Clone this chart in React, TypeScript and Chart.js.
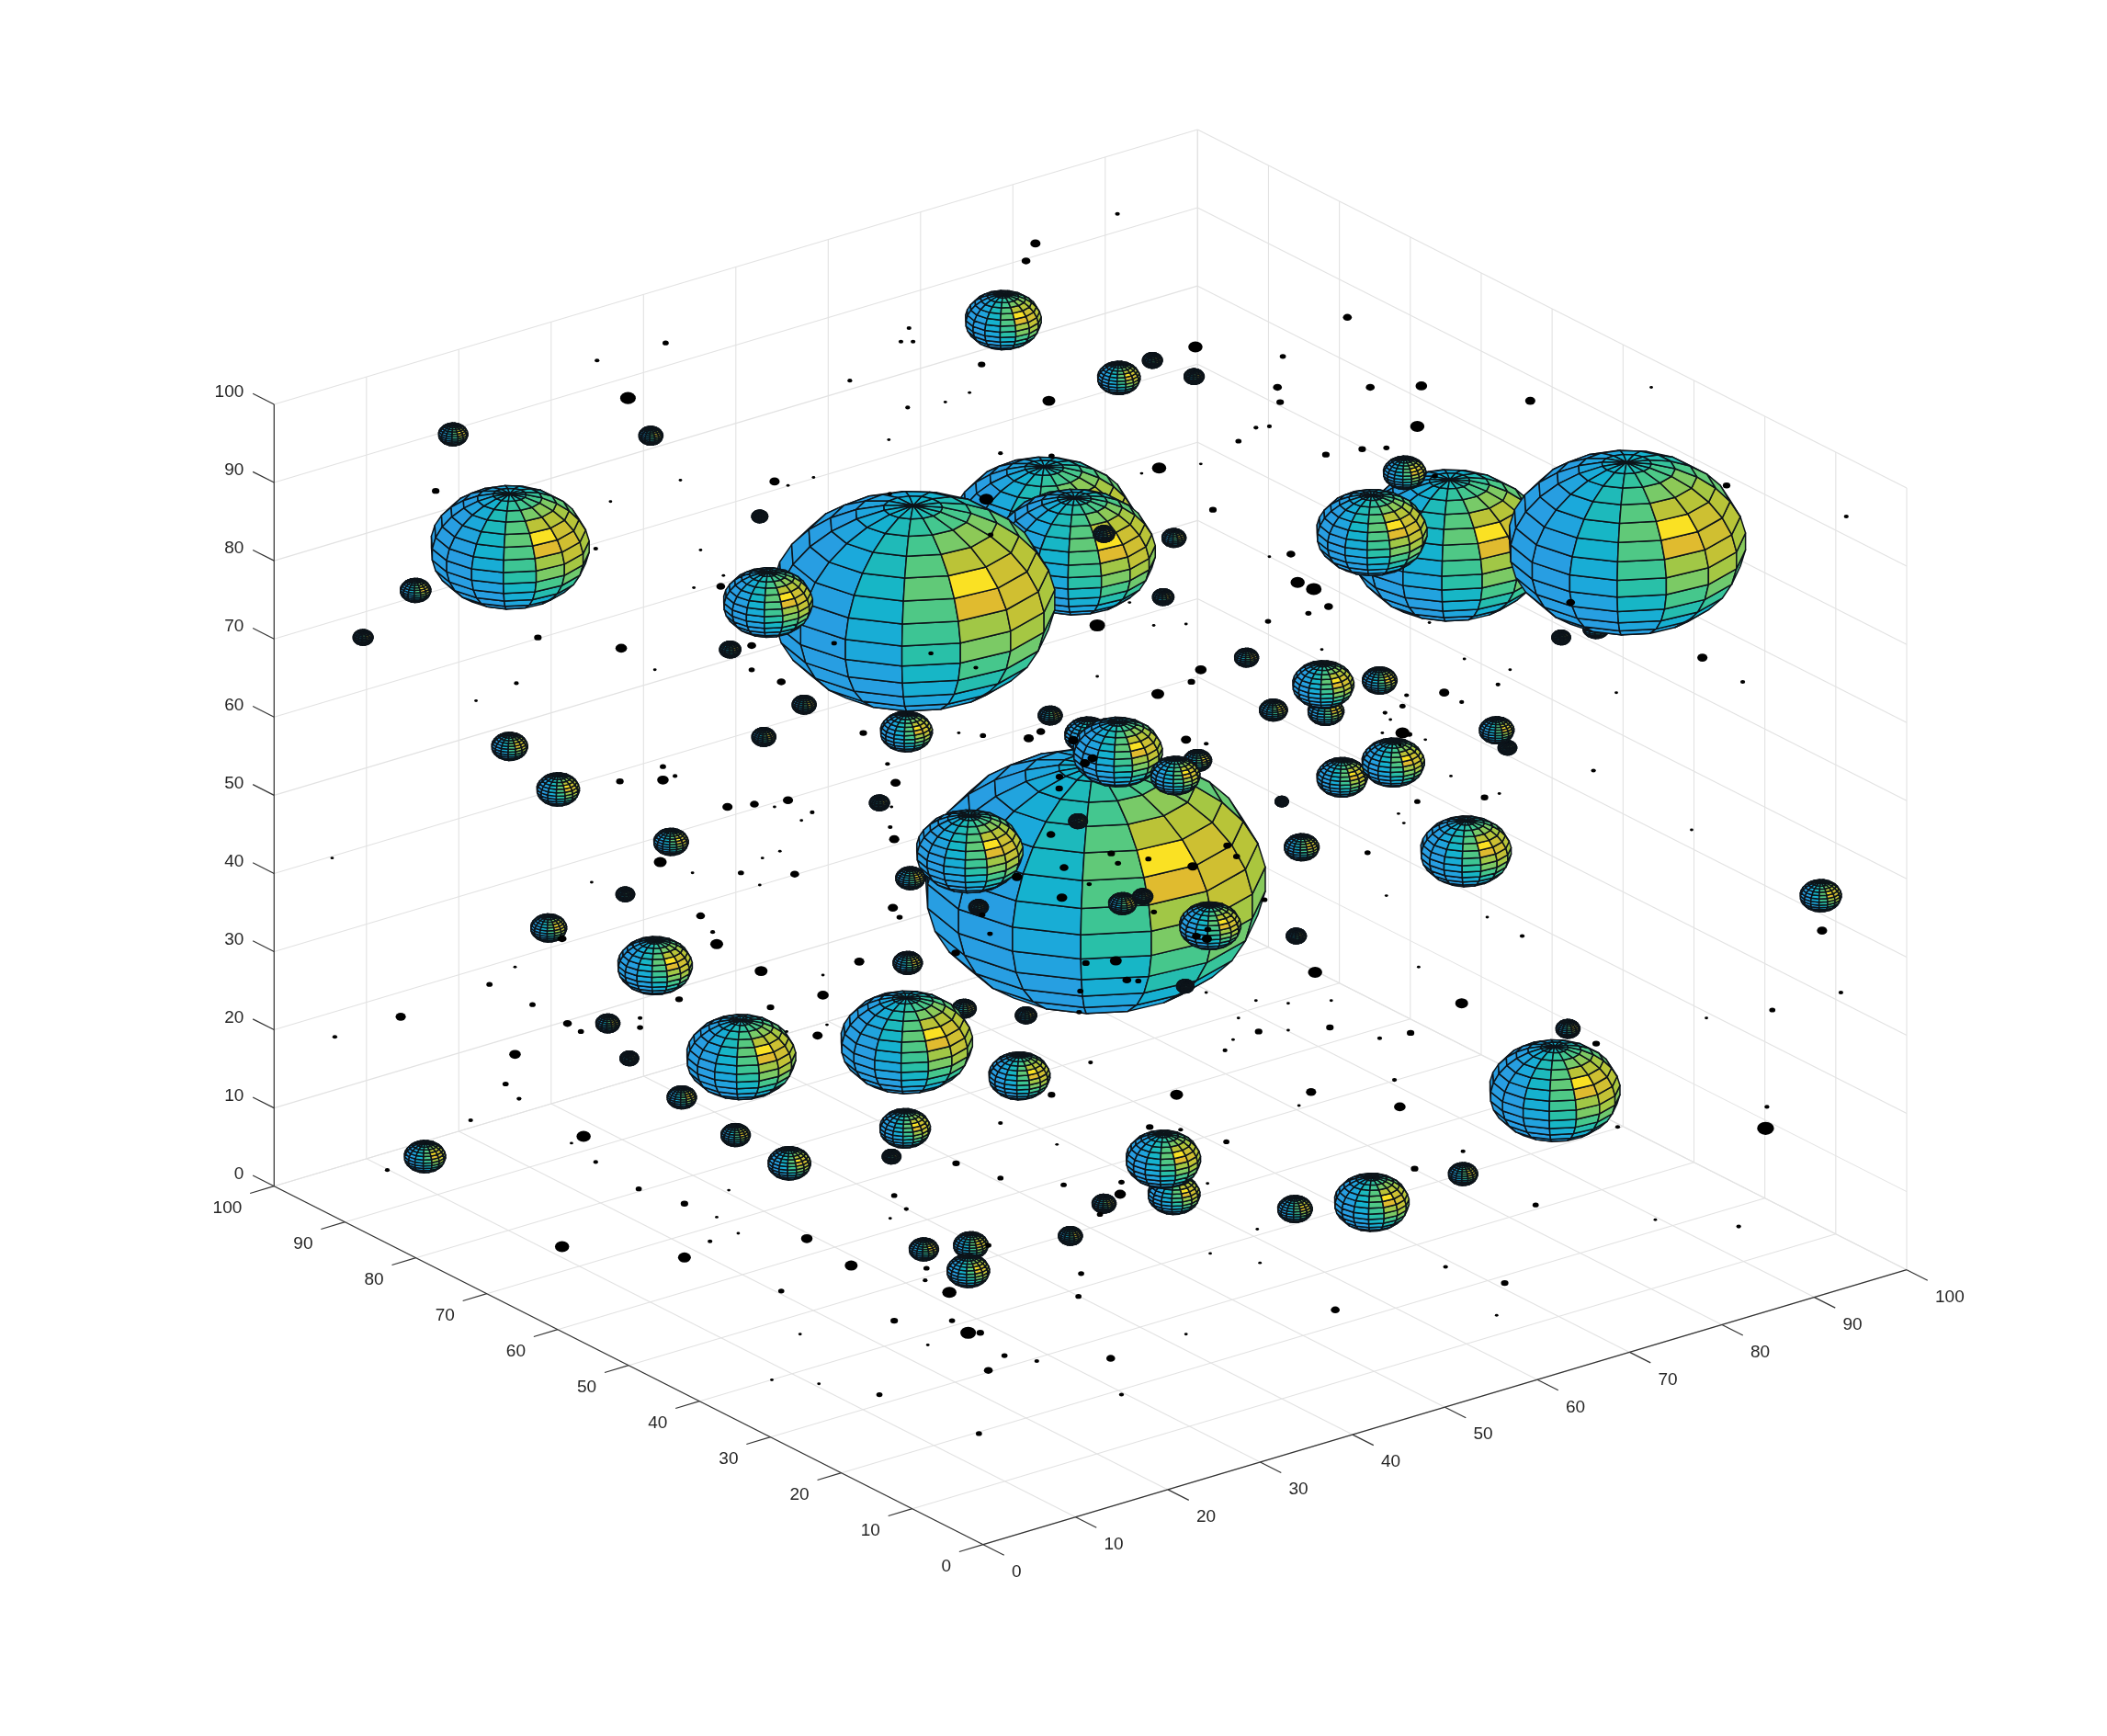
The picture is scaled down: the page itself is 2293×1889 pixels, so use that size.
import React, { useEffect, useRef } from "react";
import { Chart, registerables } from "chart.js";

Chart.register(...registerables);

// Axis ticks (data units)
const xTicks = [0, 10, 20, 30, 40, 50, 60, 70, 80, 90, 100];
const yTicks = [0, 10, 20, 30, 40, 50, 60, 70, 80, 90, 100];
const zTicks = [0, 10, 20, 30, 40, 50, 60, 70, 80, 90, 100];

const sphereU = [776.5, 799, 679, 1078, 1020, 1187, 1209.6, 1161, 379, 813.7, 571, 720.9, 809.1, 831.1, 890.6, 874, 899.9, 1044.5, 746, 832, 857, 888, 337, 484, 309, 270, 565, 821, 873, 865, 927, 947, 986, 984, 1026, 1121, 1113, 998, 1036, 968, 953.2, 964, 1090, 781, 674, 568, 598, 543, 379, 415, 499, 465, 408, 654, 677, 727.7, 801.7, 834.8, 849.8, 881.4, 675, 717, 763, 487, 551, 674, 758, 452, 468, 507, 547, 587, 673, 663, 316, 1156, 1166, 1354, 873, 865, 821, 796, 963, 1020, 1088, 687, 722, 720];
const sphereV = [393.5, 410.5, 447, 405.5, 396, 467, 403.5, 474, 407, 654.9, 448, 633.1, 546.7, 559.2, 565.5, 576.7, 688.4, 351.5, 238, 281, 268, 280, 323, 324, 439, 474, 384, 397, 400, 444, 489, 528, 529, 509, 506, 556, 543, 578, 567, 630, 596, 696, 633, 532, 544, 548, 524, 483, 555, 587, 626, 665, 690, 597, 653, 674.6, 610.6, 671.9, 666.6, 733.3, 716, 750, 755, 718, 786, 775, 800, 761, 787, 816, 844, 865, 839, 860, 860, 811, 765, 666, 888, 862, 895, 919, 899, 894, 873, 929, 926, 945];
const sphereHalfWidth = [69.5, 60.5, 106, 73, 41.5, 10, 89, 7, 59.5, 128, 33.5, 40, 17.5, 33.5, 10.5, 18.5, 23, 16, 28.5, 16, 7.5, 7.5, 11, 9, 11.5, 7.5, 6, 8, 9, 8, 9, 10.5, 13.5, 23, 13, 7, 13, 19, 23.5, 13, 5, 7.5, 34, 9, 19.5, 9, 9, 8, 13.5, 16, 13, 7, 13.5, 7.5, 11, 7.3, 7, 10.5, 7.5, 6.5, 11, 9, 8, 28, 41, 49.5, 23, 9, 7, 11, 11, 16, 19, 7, 15.5, 49, 9, 15.5, 19.5, 28, 9, 9, 13, 28, 11, 11, 13, 16];

const dotU = [831, 770, 763, 444, 495, 676, 670, 679, 632, 730, 889, 954, 1002, 1019, 1057, 950, 952, 780, 721, 703, 675, 467, 1138, 1228, 1054, 944, 934, 921, 661, 1013, 986, 1031, 744, 782, 862, 849, 893, 1067, 576, 605, 586, 506, 324, 454, 902, 1284, 1373, 443, 521, 960, 944, 965, 977, 536, 516, 538, 988, 983, 1168, 943, 973, 882, 816, 858, 840, 400, 462, 559, 1063, 1266, 1123, 1089, 1296, 893, 886, 861, 816, 581, 559, 487, 384, 354, 1074, 1114, 1087, 1202, 1046, 1043, 1030, 1034, 1028, 642, 713, 731, 765, 774, 882, 897, 1043, 1048, 1041, 1060, 1185, 660, 666, 461, 493, 493, 502, 586, 541, 561, 576, 604, 596, 663, 1079, 1054, 1040, 1044, 1104, 1115, 1258, 247, 665, 662, 491, 580, 567, 551, 591, 515, 440, 565, 1017, 1031, 664, 669, 521, 1106, 1132, 530, 533, 418, 1355, 639, 566, 612, 383, 364, 1055, 978, 612, 573, 505, 396, 298, 422, 432, 476, 476, 608, 585, 615, 249, 1087, 934, 958, 990, 921, 897, 1318, 1369, 1269, 989, 958, 936, 917, 911, 1026, 1049, 383, 1187, 811, 1037, 376, 386, 875, 975, 782, 966, 1041, 350, 744, 855, 878, 1203, 912, 1314, 1313, 425, 434, 786, 443, 711, 1052, 1088, 288, 744, 475, 791, 834, 833, 665, 542, 898, 509, 818, 674, 662, 1142, 533, 549, 1231, 935, 1293, 600, 528, 418, 509, 900, 633, 937, 1075, 689, 735, 804, 688, 1119, 706, 581, 802, 993, 665, 708, 1113, 720, 729, 595, 882, 747, 771, 826, 690, 735, 574, 609, 654, 834, 728, 787.9, 787.7, 781.5, 791.3, 789.7, 810, 826.4, 831.4, 854, 887, 912.7, 919.6, 858.1, 736.2, 710.7, 807.5, 829.8, 838, 846.5, 803.4, 802.5, 756.3, 940.3, 730.5, 898.2, 889.7, 897.5, 798.2, 812.5, 806.8, 736.7, 620.3, 692.3, 725.7, 733.5, 661.7];
const dotV = [159, 181, 194, 268, 255, 244, 254, 254, 283, 271, 258, 265, 236, 288, 287, 288, 299, 298, 292, 299, 303, 296, 298, 288, 317, 317, 318, 328, 327, 334, 338, 333, 337, 339, 348, 352, 345, 354, 358, 355, 361, 357, 365, 373, 379, 361, 384, 408, 409, 412, 414, 433, 438, 436, 437, 428, 451, 483, 448, 462, 456, 464, 465, 465, 448, 474, 482, 480, 463, 489, 498, 490, 507, 498, 507, 516, 503, 507, 498, 498, 508, 521, 515, 509, 522, 515, 517, 525, 530, 535, 545, 545, 545, 547, 549, 544, 550, 553, 545, 546, 554, 550, 573, 568, 582, 581, 570, 580, 577, 595, 600, 598, 600, 604, 610, 600, 577, 596, 605, 612, 593, 590, 617, 638, 624, 615, 641, 633, 638, 649, 650, 649, 656, 658, 634, 666, 675, 682, 681, 682, 696, 693, 702, 698, 692, 715, 722, 725, 719, 732, 719, 723, 740, 749, 743, 747, 756, 761, 767, 757, 764, 770, 767, 762, 771, 746, 744, 746, 744, 757, 738, 751, 738, 757, 764, 766, 767, 773, 781, 772, 768, 784, 776, 790, 803, 806, 817, 814, 812, 814, 822, 823, 833, 835, 838, 840, 838, 849, 823, 839, 850, 845, 851, 864, 865, 869, 856, 870, 876, 884, 881, 879, 888, 889, 885, 880, 895, 903, 899, 906, 896, 905, 917, 907, 914, 912, 921, 923, 927, 935, 932, 941, 939, 942, 943, 926, 947, 952, 954, 961, 960, 964, 974, 982, 982, 978, 991, 991, 992, 992, 1008, 1012, 1010, 1000, 1019, 1026, 1029, 1037, 1037, 1066, 577.6, 586.3, 620.5, 645.1, 667.4, 657.4, 634.6, 641.9, 638.7, 644.2, 628.7, 636.9, 678.1, 694.3, 708.6, 716.1, 714.5, 728.7, 729.4, 736.9, 752.6, 652.1, 669, 680.2, 691.1, 696.1, 698.1, 550.5, 563.8, 567.4, 397.7, 478.3, 485.8, 496.5, 371.2, 367.1];
const dotHalfWidth = [1.5, 3.5, 3, 1.5, 2, 1.5, 1.5, 1.5, 1.5, 2.5, 5, 2, 3, 3, 4, 3, 2.5, 4.5, 1, 1, 1.5, 5.5, 3.5, 1, 5, 1.5, 1.5, 2, 1, 2.5, 2.5, 2, 1.5, 2, 5, 1, 1, 2, 3.5, 1, 1, 1, 2.5, 1, 2.5, 2.5, 1.5, 1.5, 1, 3, 1, 5, 5.5, 3, 1, 1, 3, 1, 3, 2, 2, 1, 5.5, 1, 1, 2.5, 4, 3, 1, 3.5, 1, 1, 1.5, 4, 2.5, 4.5, 1, 3, 2, 1, 1.5, 1, 3.5, 1.5, 1.5, 1, 1.5, 2, 1.5, 1, 1, 2.5, 1, 2, 3.5, 3, 3.5, 1.5, 5, 2, 1, 1, 1.5, 1.5, 3.5, 2.5, 2, 4, 1.5, 3.5, 3.5, 3, 1, 1.5, 1, 1, 1, 2, 1, 1, 2.5, 1, 1, 1, 3.5, 1.5, 4.5, 1, 1, 2, 3, 1, 1, 1, 2, 1, 3.5, 2, 3, 1, 1.5, 1.5, 4.5, 3, 3.5, 3.5, 4.5, 1, 1, 2, 1, 5, 4, 2.5, 2.5, 2, 3.5, 3, 2, 1.5, 2, 3.5, 1, 1, 1.5, 4.5, 1, 1, 1, 1, 1, 2, 1.5, 1, 2.5, 1, 2.5, 1, 1.5, 1.5, 2.5, 4, 2.5, 1.5, 1.5, 2, 1.5, 4.5, 3.5, 2.5, 1, 4, 1.5, 1.5, 2.5, 1.5, 1.5, 2, 1.5, 6, 1, 5, 1, 1.5, 2.5, 2.5, 1.5, 1.5, 2, 2, 2, 2, 4, 2, 1, 1, 2.5, 2, 1.5, 1, 2, 1, 1, 1, 1, 1.5, 4, 1.5, 5, 4.5, 1, 4.5, 1, 1.5, 2, 2, 2, 1.5, 2.5, 5, 2, 2, 3, 2.5, 2, 1, 5.5, 2.5, 1, 1, 2, 1.5, 3, 1, 3, 1, 1, 2, 1.5, 2, 2.5, 2.5, 3, 3, 3.7, 1.6, 2.5, 2, 2, 3.7, 2.7, 2.3, 2, 1.8, 3, 2.5, 4.1, 3, 2, 2, 1.8, 3.7, 2, 2, 2.3, 3, 3.5, 3.7, 3.5, 3.5, 1.8, 1.8, 1.6, 1.5, 5, 1.5];

// Facet colours along the shading value 0..1
const rampStops = [0, 0.15, 0.3, 0.42, 0.52, 0.62, 0.72, 0.82, 0.88, 0.94, 1];
const rampColors = [
  [43, 155, 227], [28, 168, 220], [19, 180, 204], [44, 193, 164], [73, 200, 138], [126, 202, 99],
  [174, 198, 59], [213, 190, 48], [232, 185, 47], [253, 185, 58], [250, 225, 35],
];

const PX_PER_PLANE = 1.4634;
const WIDTH = 2293;
const HEIGHT = 1889;
const ORIGIN = [1070, 1680.7];
const AX = [10.05, -2.99];
const AY = [-7.717, -3.9];
const AZ = [0, -8.507];

const planeU = (x: number, y: number, z: number) => (ORIGIN[0] + AX[0] * x + AY[0] * y + AZ[0] * z) / PX_PER_PLANE;
const planeV = (x: number, y: number, z: number) => (ORIGIN[1] + AX[1] * x + AY[1] * y + AZ[1] * z) / PX_PER_PLANE;

const rowU = [AX[0], AY[0], AZ[0]];
const rowV = [AX[1], AY[1], AZ[1]];
const cross = [
  rowU[1] * rowV[2] - rowU[2] * rowV[1],
  rowU[2] * rowV[0] - rowU[0] * rowV[2],
  rowU[0] * rowV[1] - rowU[1] * rowV[0],
];
const crossLen = Math.hypot(cross[0], cross[1], cross[2]);
const VIEW = [-cross[0] / crossLen, -cross[1] / crossLen, -cross[2] / crossLen];
const HALF_WIDTH_PER_R = Math.hypot(AX[0], AY[0]);
const HALF_HEIGHT_PER_R = Math.hypot(AX[1], AY[1], AZ[1]);

const dir = (lonDeg: number, latDeg: number) => {
  const lo = (lonDeg * Math.PI) / 180;
  const la = (latDeg * Math.PI) / 180;
  return [Math.cos(la) * Math.cos(lo), Math.cos(la) * Math.sin(lo), Math.sin(la)];
};
const dot3 = (a: number[], b: number[]) => a[0] * b[0] + a[1] * b[1] + a[2] * b[2];
const LIGHT_DIFFUSE = dir(-70, 27);
const LIGHT_SPECULAR = dir(-70, 32);

const rampColor = (t: number) => {
  const v = Math.max(0, Math.min(1, t));
  let i = 0;
  while (i < rampStops.length - 2 && v > rampStops[i + 1]) i++;
  const f = (v - rampStops[i]) / (rampStops[i + 1] - rampStops[i]);
  const c = rampColors[i].map((a, k) => Math.round(a + (rampColors[i + 1][k] - a) * f));
  return `rgb(${c[0]},${c[1]},${c[2]})`;
};

const shade = (n: number[]) => {
  const d = Math.max(0, dot3(n, LIGHT_DIFFUSE));
  const nl = dot3(n, LIGHT_SPECULAR);
  const r = [2 * nl * n[0] - LIGHT_SPECULAR[0], 2 * nl * n[1] - LIGHT_SPECULAR[1], 2 * nl * n[2] - LIGHT_SPECULAR[2]];
  const s = Math.pow(Math.max(0, dot3(r, VIEW)), 16);
  return 0.03 + 0.78 * Math.pow(d, 1.3) + 0.34 * s;
};

const LON_STEP = 24;
const LAT_STEP = 12;

const drawSphere = (ctx: CanvasRenderingContext2D, cx: number, cy: number, halfWidthPx: number) => {
  const r = halfWidthPx / HALF_WIDTH_PER_R;
  const proj = (n: number[]): [number, number] => [cx + r * dot3(rowU, n), cy + r * dot3(rowV, n)];
  for (let lon = -180; lon < 180; lon += LON_STEP) {
    for (let lat = -90; lat < 90; lat += LAT_STEP) {
      const mid = dir(lon + LON_STEP / 2, lat + LAT_STEP / 2);
      if (dot3(mid, VIEW) < -0.05) continue;
      const pts = [dir(lon, lat), dir(lon + LON_STEP, lat), dir(lon + LON_STEP, lat + LAT_STEP), dir(lon, lat + LAT_STEP)].map(proj);
      ctx.beginPath();
      ctx.moveTo(pts[0][0], pts[0][1]);
      for (let i = 1; i < 4; i++) ctx.lineTo(pts[i][0], pts[i][1]);
      ctx.closePath();
      ctx.fillStyle = rampColor(shade(mid));
      ctx.fill();
      ctx.stroke();
    }
  }
};

const boxPlugin = {
  id: "box3d",
  beforeDatasetsDraw(chart: any) {
    const { ctx, scales } = chart;
    const px = (x: number, y: number, z: number): [number, number] => [
      scales.x.getPixelForValue(planeU(x, y, z)),
      scales.y.getPixelForValue(planeV(x, y, z)),
    ];
    const seg = (a: [number, number], b: [number, number]) => {
      ctx.beginPath();
      ctx.moveTo(a[0], a[1]);
      ctx.lineTo(b[0], b[1]);
      ctx.stroke();
    };
    ctx.save();
    ctx.lineWidth = 1.1;
    ctx.strokeStyle = "#e2e2e2";
    xTicks.forEach((t) => {
      seg(px(t, 0, 0), px(t, 100, 0));
      seg(px(t, 100, 0), px(t, 100, 100));
    });
    yTicks.forEach((t) => {
      seg(px(0, t, 0), px(100, t, 0));
      seg(px(100, t, 0), px(100, t, 100));
    });
    zTicks.forEach((t) => {
      seg(px(0, 100, t), px(100, 100, t));
      seg(px(100, 100, t), px(100, 0, t));
    });
    ctx.strokeStyle = "#333333";
    ctx.lineWidth = 1.2;
    seg(px(0, 0, 0), px(100, 0, 0));
    seg(px(0, 0, 0), px(0, 100, 0));
    seg(px(0, 100, 0), px(0, 100, 100));
    ctx.font = '19px "Liberation Sans"';
    ctx.fillStyle = "#262626";
    ctx.textBaseline = "middle";
    xTicks.forEach((t) => {
      const p = px(t, 0, 0);
      seg(p, px(t, -2.95, 0));
      ctx.textAlign = "left";
      ctx.fillText(String(t), p[0] + 31, p[1] + 30);
    });
    yTicks.forEach((t) => {
      const p = px(0, t, 0);
      seg(p, px(-2.6, t, 0));
      ctx.textAlign = "right";
      ctx.fillText(String(t), p[0] - 35, p[1] + 24.5);
    });
    zTicks.forEach((t) => {
      const p = px(0, 100, t);
      seg(p, px(0, 103, t));
      ctx.textAlign = "right";
      ctx.fillText(String(t), p[0] - 33, p[1] - 13);
    });
    ctx.restore();
  },
  afterDatasetsDraw(chart: any) {
    const { ctx, scales } = chart;
    const sx = Math.abs(scales.x.getPixelForValue(1) - scales.x.getPixelForValue(0));
    ctx.save();
    ctx.lineWidth = 1.5;
    ctx.lineJoin = "round";
    ctx.strokeStyle = "#0d141a";
    chart.getDatasetMeta(0).data.forEach((el: any, i: number) => {
      drawSphere(ctx, el.x, el.y, sphereHalfWidth[i] * sx);
    });
    ctx.fillStyle = "#000000";
    chart.getDatasetMeta(1).data.forEach((el: any, i: number) => {
      const rx = (dotHalfWidth[i] + 0.3) * sx;
      ctx.beginPath();
      ctx.ellipse(el.x, el.y, rx, (rx * HALF_HEIGHT_PER_R) / HALF_WIDTH_PER_R, 0, 0, Math.PI * 2);
      ctx.fill();
    });
    ctx.restore();
  },
};

export default function App() {
  const ref = useRef<HTMLCanvasElement>(null);
  useEffect(() => {
    document.body.style.margin = "0";
    document.body.style.background = "#ffffff";
    const chart = new Chart(ref.current as HTMLCanvasElement, {
      type: "scatter",
      data: {
        datasets: [
          { label: "spheres", data: sphereU.map((u, i) => ({ x: u, y: sphereV[i] })), pointRadius: 0 },
          { label: "dots", data: dotU.map((u, i) => ({ x: u, y: dotV[i] })), pointRadius: 0 },
        ],
      },
      options: {
        responsive: false,
        animation: false,
        devicePixelRatio: 1,
        layout: { padding: 0 },
        plugins: { legend: { display: false }, tooltip: { enabled: false } },
        scales: {
          x: { type: "linear", display: false, min: 0, max: WIDTH / PX_PER_PLANE },
          y: { type: "linear", display: false, reverse: true, min: 0, max: HEIGHT / PX_PER_PLANE },
        },
      },
      plugins: [boxPlugin],
    } as any);
    return () => chart.destroy();
  }, []);
  return <canvas ref={ref} width={WIDTH} height={HEIGHT} style={{ display: "block", width: WIDTH, height: HEIGHT }} />;
}
